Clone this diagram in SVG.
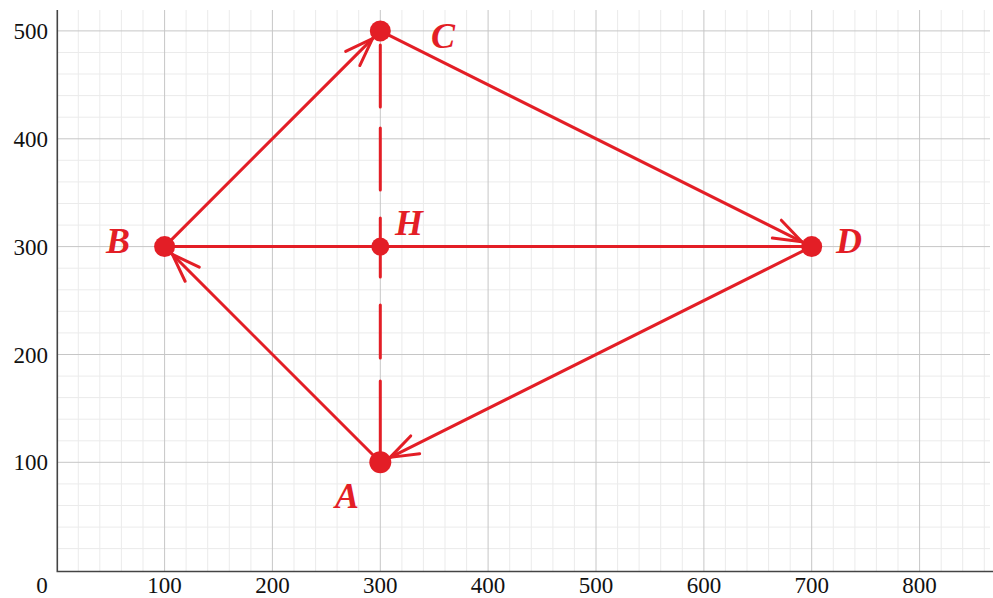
<svg xmlns="http://www.w3.org/2000/svg" width="993" height="598" viewBox="0 0 993 598">
<style>
.minor{stroke:#ebebeb;stroke-width:1;fill:none}
.major{stroke:#c6c6c6;stroke-width:1;fill:none}
.axis{stroke:#444;stroke-width:1.6;fill:none}
.num{font-family:"Liberation Serif",serif;font-size:23px;fill:#111}
.edge{stroke:#e31e26;stroke-width:3;fill:none;stroke-linecap:round}
.dot{fill:#e31e26}
.lbl{font-family:"Liberation Serif",serif;font-size:36px;font-weight:bold;font-style:italic;fill:#e31e26}
</style>
<defs>
<marker id="arr" markerUnits="userSpaceOnUse" orient="auto" refX="0" refY="0" markerWidth="10" markerHeight="10" overflow="visible">
<path d="M-39,-10 L-11,0 M-39,10 L-11,0" stroke="#e31e26" stroke-width="3" fill="none" stroke-linecap="round"/>
</marker>
</defs>
<rect width="993" height="598" fill="#fff"/>
<g id="grid">
<path class="minor" d="M78.3,10V571M99.8,10V571M121.4,10V571M143,10V571M186.1,10V571M207.7,10V571M229.3,10V571M250.9,10V571M294,10V571M315.6,10V571M337.1,10V571M358.7,10V571M401.9,10V571M423.4,10V571M445,10V571M466.6,10V571M509.7,10V571M531.3,10V571M552.9,10V571M574.4,10V571M617.6,10V571M639.1,10V571M660.7,10V571M682.3,10V571M725.4,10V571M747,10V571M768.6,10V571M790.2,10V571M833.3,10V571M854.9,10V571M876.4,10V571M898,10V571M941.2,10V571M962.7,10V571M984.3,10V571"/>
<path class="minor" d="M57,548.6H990M57,527.1H990M57,505.5H990M57,483.9H990M57,440.8H990M57,419.2H990M57,397.6H990M57,376.1H990M57,332.9H990M57,311.3H990M57,289.8H990M57,268.2H990M57,225.1H990M57,203.5H990M57,181.9H990M57,160.3H990M57,117.2H990M57,95.6H990M57,74H990M57,52.5H990"/>
<path class="major" d="M164.6,10V571M272.4,10V571M380.3,10V571M488.1,10V571M596,10V571M703.9,10V571M811.7,10V571M919.6,10V571"/>
<path class="major" d="M57,462.3H990M57,354.5H990M57,246.6H990M57,138.8H990M57,30.9H990"/>
<path class="axis" d="M57.3,10V571.5M56.5,571.5H993"/>
</g>
<g id="axis-labels">
<text class="num" x="42" y="593" text-anchor="middle">0</text>
<text class="num" x="164.6" y="593" text-anchor="middle">100</text>
<text class="num" x="272.4" y="593" text-anchor="middle">200</text>
<text class="num" x="380.3" y="593" text-anchor="middle">300</text>
<text class="num" x="488.1" y="593" text-anchor="middle">400</text>
<text class="num" x="596" y="593" text-anchor="middle">500</text>
<text class="num" x="703.9" y="593" text-anchor="middle">600</text>
<text class="num" x="811.7" y="593" text-anchor="middle">700</text>
<text class="num" x="919.6" y="593" text-anchor="middle">800</text>
<text class="num" x="48" y="470" text-anchor="end">100</text>
<text class="num" x="48" y="362.5" text-anchor="end">200</text>
<text class="num" x="48" y="254.6" text-anchor="end">300</text>
<text class="num" x="48" y="146.8" text-anchor="end">400</text>
<text class="num" x="48" y="39" text-anchor="end">500</text>
</g>
<g id="connectors">
<line class="edge" x1="164.6" y1="246.6" x2="380.3" y2="30.9" marker-end="url(#arr)"/>
<line class="edge" x1="380.3" y1="30.9" x2="811.7" y2="246.6" marker-end="url(#arr)"/>
<line class="edge" x1="811.7" y1="246.6" x2="380.3" y2="462.3" marker-end="url(#arr)"/>
<line class="edge" x1="380.3" y1="462.3" x2="164.6" y2="246.6" marker-end="url(#arr)"/>
<line class="edge" x1="164.6" y1="246.6" x2="811.7" y2="246.6"/>
<line class="edge" x1="380.3" y1="45" x2="380.3" y2="462.3" stroke-dasharray="62 21 62 28 59 28 53 23 90" stroke-linecap="butt"/>
</g>
<g id="node-A"><circle class="dot" cx="380.3" cy="462.3" r="11"/><text class="lbl" x="335" y="508">A</text></g>
<g id="node-B"><circle class="dot" cx="164.6" cy="246.6" r="10.5"/><text class="lbl" x="106" y="253">B</text></g>
<g id="node-C"><circle class="dot" cx="380.3" cy="30.9" r="10.5"/><text class="lbl" x="431" y="48">C</text></g>
<g id="node-D"><circle class="dot" cx="811.7" cy="246.6" r="10.5"/><text class="lbl" x="836" y="253">D</text></g>
<g id="node-H"><circle class="dot" cx="380.3" cy="246.6" r="9"/><text class="lbl" x="395" y="235">H</text></g>
</svg>
